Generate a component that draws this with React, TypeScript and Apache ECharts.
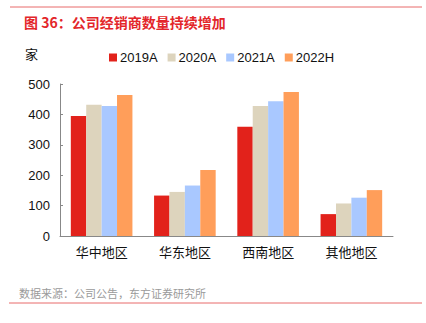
import React, { useEffect, useRef } from "react";
import * as echarts from "echarts";

const categories = ["华中地区", "华东地区", "西南地区", "其他地区"];
const seriesNames = ["2019A", "2020A", "2021A", "2022H"];
const v2019A = [395, 133, 359, 72];
const v2020A = [432, 145, 428, 107];
const v2021A = [428, 166, 443, 126];
const v2022H = [464, 217, 474, 151];
const colors = ["#E2221B", "#DDD4BD", "#A9C8FF", "#FF9E5A"];
const yTicks = { min: 0, max: 500, interval: 100 };

export default function App() {
  const ref = useRef<HTMLDivElement>(null);
  useEffect(() => {
    const chart = echarts.init(ref.current!, null, { renderer: "svg" });
    const values = [v2019A, v2020A, v2021A, v2022H];
    const font = "Liberation Sans, Arial, sans-serif";
    chart.setOption({
      animation: false,
      textStyle: { fontFamily: font },
      title: {
        text: "图 36：公司经销商数量持续增加",
        left: 19,
        top: 10,
        textStyle: { color: "#E3262A", fontSize: 14, fontWeight: "bold", fontFamily: "Noto Sans CJK SC" },
      },
      legend: {
        data: seriesNames,
        top: 46,
        left: 104,
        itemWidth: 8,
        itemHeight: 8,
        itemGap: 10,
        icon: "rect",
        textStyle: { fontSize: 13, color: "#111", fontFamily: font, padding: [0, 0, 0, -2] },
      },
      graphic: [
        { type: "line", shape: { x1: 10, y1: 7, x2: 422, y2: 7 }, style: { stroke: "#E86A6A", lineWidth: 1 } },
        { type: "line", shape: { x1: 9, y1: 303, x2: 422, y2: 303 }, style: { stroke: "#E86A6A", lineWidth: 1 } },
        { type: "text", left: 19, top: 287, style: { text: "数据来源：公司公告，东方证券研究所", fill: "#9A9A9A", fontSize: 11, fontFamily: "Noto Sans CJK SC" } },
        { type: "text", left: 25, top: 47, style: { text: "家", fill: "#111", fontSize: 13, fontFamily: "Noto Sans CJK SC" } },
      ],
      grid: { left: 60, right: 33, top: 84, bottom: 87 },
      xAxis: {
        type: "category",
        data: categories,
        axisLine: { lineStyle: { color: "#888" } },
        axisTick: { inside: true, length: 4, lineStyle: { color: "#888" } },
        axisLabel: { fontSize: 13, color: "#111", margin: 9, fontFamily: "Noto Sans CJK SC" },
      },
      yAxis: {
        type: "value",
        min: yTicks.min,
        max: yTicks.max,
        interval: yTicks.interval,
        splitLine: { show: false },
        axisLine: { show: true, lineStyle: { color: "#888" } },
        axisTick: { show: true, inside: true, length: 3, lineStyle: { color: "#888" } },
        axisLabel: { fontSize: 13, color: "#111", margin: 10 },
      },
      series: seriesNames.map((name, i) => ({
        name,
        type: "bar",
        data: values[i],
        barGap: "0%",
        barCategoryGap: "26%",
        itemStyle: { color: colors[i] },
      })),
    });
    return () => chart.dispose();
  }, []);
  return <div ref={ref} style={{ width: 426, height: 323, position: "absolute", left: 0, top: 0 }} />;
}
